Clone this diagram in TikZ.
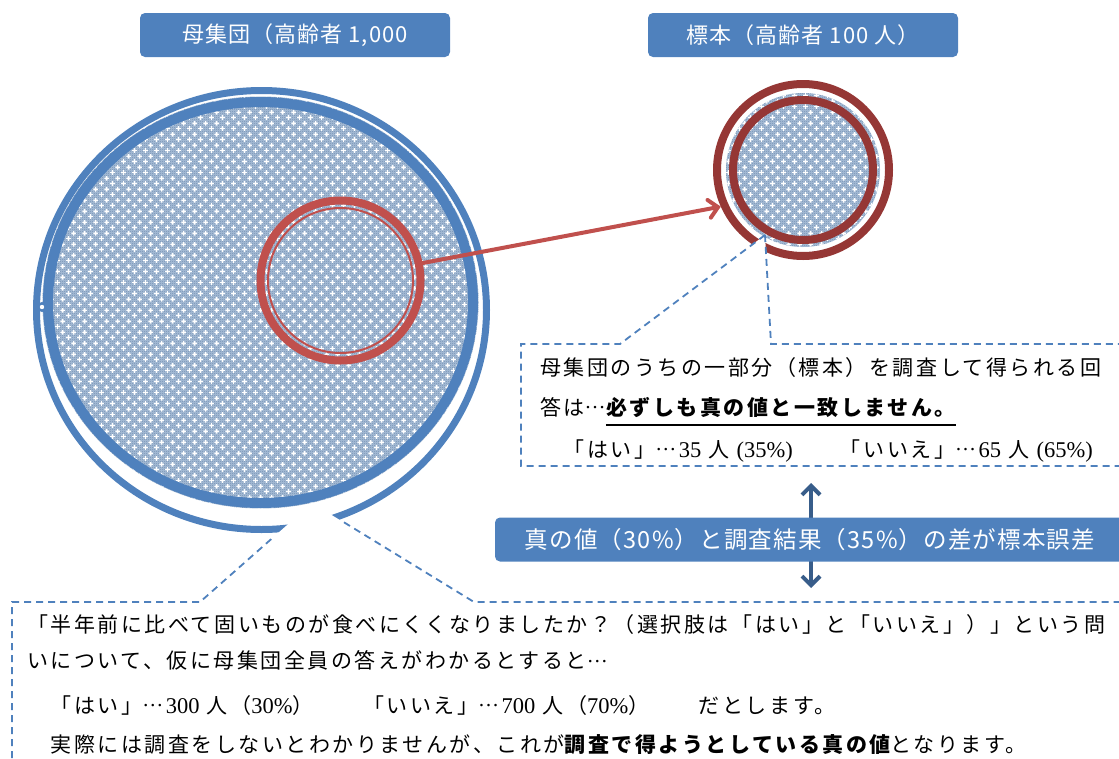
\documentclass[tikz,border=0pt]{standalone}
\usepackage{fontspec}
\usetikzlibrary{arrows.meta,patterns}

\newfontfamily\jpbody{Noto Sans CJK JP}[LetterSpace=12]
\newfontfamily\jphead{Noto Sans CJK JP}[LetterSpace=5]
\newfontfamily\latbody{Liberation Serif}

\newcommand\headfont{\jphead\fontsize{22pt}{26pt}\selectfont}
\newcommand\bodyfont{\jpbody\fontsize{21pt}{25pt}\selectfont}
\newcommand\ltn[1]{{\latbody\fontsize{22.5pt}{25pt}\selectfont #1}}
% centred ellipsis on the full-width pitch of the body text
\newcommand\midell{\raisebox{6.5pt}{\latbody\fontsize{21pt}{25pt}\selectfont …}\hspace{2.5pt}}

\definecolor{ofcblue}{HTML}{4F81BD}
\definecolor{ofcdark}{HTML}{385D8A}
\definecolor{ofcred}{HTML}{C0504D}
\definecolor{ofcmaroon}{HTML}{953735}
\definecolor{dotbase}{HTML}{A7BED8}
\definecolor{dotdark}{HTML}{728EB0}

% fine two-tone texture of the discs
\pgfdeclarepatternformonly{finechecker}{\pgfpointorigin}{\pgfqpoint{2pt}{2pt}}{\pgfqpoint{2pt}{2pt}}{%
  \pgfpathrectangle{\pgfpointorigin}{\pgfqpoint{1pt}{1pt}}%
  \pgfpathrectangle{\pgfqpoint{1pt}{1pt}}{\pgfqpoint{1pt}{1pt}}%
  \pgfusepath{fill}}
% small white crosses on a staggered grid
\pgfdeclarepatternformonly{crossgrid}{\pgfpointorigin}{\pgfqpoint{11pt}{11pt}}{\pgfqpoint{11pt}{11pt}}{%
  \pgfsetlinewidth{1.5pt}%
  \pgfpathmoveto{\pgfqpoint{0.25pt}{2.75pt}}\pgfpathlineto{\pgfqpoint{5.25pt}{2.75pt}}%
  \pgfpathmoveto{\pgfqpoint{2.75pt}{0.25pt}}\pgfpathlineto{\pgfqpoint{2.75pt}{5.25pt}}%
  \pgfpathmoveto{\pgfqpoint{5.75pt}{8.25pt}}\pgfpathlineto{\pgfqpoint{10.75pt}{8.25pt}}%
  \pgfpathmoveto{\pgfqpoint{8.25pt}{5.75pt}}\pgfpathlineto{\pgfqpoint{8.25pt}{10.75pt}}%
  \pgfusepath{stroke}}

\begin{document}
\begin{tikzpicture}[x=1pt,y=-1pt,
  titlebox/.style={fill=ofcblue, rounded corners=5pt, text=white, inner sep=0pt,
    font=\headfont, minimum height=44pt},
  calloutline/.style={draw=ofcblue, line width=1.8pt, dash pattern=on 7pt off 5pt},
  bodyline/.style={anchor=base west, inner sep=0pt, font=\bodyfont},
  dotted disc/.style={fill=dotbase, postaction={pattern=finechecker, pattern color=dotdark},
    postaction={pattern=crossgrid, pattern color=white}},
  redarrow/.style={draw=ofcred, line width=4pt, line cap=round,
    -{Straight Barb[length=9pt,width=18pt,line cap=round]}},
  errarrow/.style={draw=ofcdark, line width=4pt,
    {Straight Barb[length=9pt,width=18pt]}-{Straight Barb[length=9pt,width=18pt]}}]

\useasboundingbox (0,0) rectangle (1119,758);
\clip (0,0) rectangle (1119,758);

% population disc with its two blue rings
\path[dotted disc] (260.5,302.5) ellipse [x radius=218, y radius=206];
\draw[ofcblue, line width=10pt] (260.5,302.5) ellipse [x radius=212.5, y radius=200.5];
\draw[ofcblue, line width=7pt] (261.5,310) ellipse [x radius=225, y radius=219.5];
\fill[ofcblue] (42,307) circle [radius=5];
\fill[white] (42,307) circle [radius=2.2];

% sample drawn inside the population
\node[circle, draw=ofcred, line width=8pt, minimum size=160pt, inner sep=0pt] (redc) at (340.5,280.5) {};
\draw[ofcred, line width=2pt] (redc.center) circle [radius=72.5];

% sample disc on the right
\path[dotted disc] (803,170) circle [radius=77];
\node[circle, draw=ofcmaroon, line width=8pt, minimum size=140pt, inner sep=0pt] (smallin) at (803,170) {};
\node[circle, draw=ofcmaroon, line width=8pt, minimum size=172pt, inner sep=0pt] (smallout) at (803,170) {};

\draw[redarrow] (redc.12.6) -- (smallout.204.5);

% callout for the sample
\fill[white] (620,344) -- (765,235) -- (771,344) -- cycle;
\draw[calloutline] (765,235) -- (620,344) -- (521,344) -- (521,466) -- (1125,466);
\draw[calloutline] (765,235) -- (771,344) -- (1125,344);

% callout for the population
\fill[white] (200,602) -- (312,503) -- (474,602) -- cycle;
\draw[calloutline] (12,770) -- (12,602) -- (200,602) -- (272,538.4);
\draw[calloutline] (344,522.3) -- (474,602) -- (1125,602);

% titles
\node[titlebox, minimum width=310pt] (poptitle) at (295,35) {母集団（高齢者 1,000};
\node[titlebox, minimum width=310pt] (smptitle) at (803,35) {標本（高齢者 100 人）};

% sampling error
\coordinate (errtop) at (811,483);
\coordinate (errbot) at (811,588);
\draw[errarrow] (errtop) -- (errbot);
\node[titlebox, minimum width=630pt, rounded corners=5pt,
  font=\jphead\fontsize{23.5pt}{27pt}\selectfont] (errbox) at (810,539.5)
  {真の値（30\%）と調査結果（35\%）の差が標本誤差};

% text of the sample callout
\node[bodyline] (s1) at (540,375) {母集団のうちの一部分（標本）を調査して得られる回};
\node[bodyline] (s2a) at (540,415) {答は\midell};
\node[bodyline, font=\bodyfont\bfseries] (s2b) at (s2a.base east) {必ずしも真の値と一致しません。};
\draw[line width=1.8pt] ([yshift=-10pt]s2b.base west) -- ([yshift=-10pt]s2b.base east);
\node[bodyline] (s3) at (540,457) {　「はい」\midell\ltn{35} 人 \ltn{(35\%)}　　「いいえ」\midell\ltn{65} 人 \ltn{(65\%)}};

% text of the population callout
\node[bodyline] (p1) at (27,632.5) {「半年前に比べて固いものが食べにくくなりましたか？（選択肢は「はい」と「いいえ」）」という問};
\node[bodyline] (p2) at (27,668.5) {いについて、仮に母集団全員の答えがわかるとすると\midell};
\node[bodyline] (p3) at (27,713) {　「はい」\midell\ltn{300} 人（\ltn{30\%}）　　「いいえ」\midell\ltn{700} 人（\ltn{70\%}）　　だとします。};
\node[bodyline] (p4) at (27,752) {　実際には調査をしないとわかりませんが、これが{\bfseries 調査で得ようとしている真の値}となります。};

\end{tikzpicture}
\end{document}
